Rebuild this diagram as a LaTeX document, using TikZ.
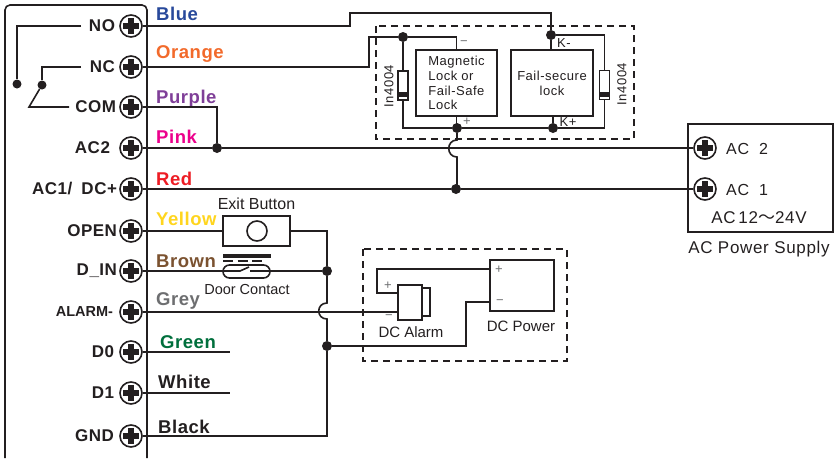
\documentclass[tikz,border=0pt]{standalone}
\usepackage{fontspec}
\setmainfont{Liberation Sans}
\newfontfamily\widefont[LetterSpace=4]{Liberation Sans}
\newfontfamily\pinfont[LetterSpace=3]{Liberation Sans}
\newfontfamily\cjk{Noto Sans CJK SC}
\usetikzlibrary{positioning}
\definecolor{ink}{HTML}{231F20}
\definecolor{cBlue}{HTML}{28499B}
\definecolor{cOrange}{HTML}{F26A2B}
\definecolor{cPurple}{HTML}{7F3F98}
\definecolor{cPink}{HTML}{EC008C}
\definecolor{cRed}{HTML}{ED1C24}
\definecolor{cYellow}{HTML}{FFD51E}
\definecolor{cBrown}{HTML}{7B5230}
\definecolor{cGrey}{HTML}{6D6E70}
\definecolor{cGreen}{HTML}{006F3C}
\definecolor{cWhite}{HTML}{231F20}
\definecolor{cBlack}{HTML}{231F20}
\tikzset{
  wire/.style={draw=ink,line width=1.6pt,line join=miter},
  term/.style={circle,draw=ink,fill=white,line width=1.6pt,minimum size=22pt,inner sep=0pt,
    path picture={
      \draw[ink,line width=6.5pt] ([xshift=-8pt]path picture bounding box.center) -- ([xshift=8pt]path picture bounding box.center);
      \draw[ink,line width=6.5pt] ([yshift=-8pt]path picture bounding box.center) -- ([yshift=8pt]path picture bounding box.center);}},
  dot/.style={circle,fill=ink,minimum size=10pt,inner sep=0pt},
  pinlab/.style={text=ink,inner sep=0pt,font=\fontsize{17}{17}\selectfont\pinfont\bfseries},
  wirelab/.style={anchor=base west,inner sep=0pt,font=\fontsize{18.5}{18.5}\selectfont\pinfont\bfseries},
  thin label/.style={text=ink,inner sep=0pt,font=\fontsize{13}{14.7}\selectfont\widefont},
  mark label/.style={text=cGrey,inner sep=0pt,font=\fontsize{13}{13}\selectfont},
  devbox/.style={rectangle,draw=ink,line width=1.6pt,fill=white,inner sep=0pt},
  diode/.style={rectangle,draw=ink,fill=white,line width=1.4pt,minimum width=10pt,minimum height=29pt,inner sep=0pt,
    path picture={\fill[ink] ([yshift=3pt]path picture bounding box.south west) rectangle ([yshift=8pt]path picture bounding box.south east);}},
  dashbox/.style={draw=ink,line width=1.6pt,dash pattern=on 7pt off 5pt}
}
\begin{document}
\begin{tikzpicture}[x=1pt,y=-1pt]
  \useasboundingbox (0,0) rectangle (836,459);
  % controller outline
  \draw[wire,rounded corners=5pt] (5,458) -- (5,5) -- (147,5) -- (147,458);
  % dashed groups
  \draw[dashbox] (376,26) rectangle (634,139);
  \draw[dashbox] (363,249) rectangle (567,361);
  % terminals
  \foreach \n/\y/\g/\lab in {no/26/4/NO, nc/67/4/NC, com/107/3/COM, actwo/148/9/AC2, acone/189/2/{AC1/\hspace{4pt} DC+},
                          open/231/2/OPEN, din/271/2/D\_IN, dzero/352/5/D0, done/393/5/D1, gnd/436/5/GND}
  {
    \node[term] (t\n) at (131,\y) {};
    \node[pinlab,left=\g pt of t\n] (l\n) {\lab};
  }
  \node[term] (talarm) at (131,312) {};
  \node[pinlab,left=6pt of talarm,font=\fontsize{14.5}{14.5}\selectfont\bfseries] (lalarm) {ALARM-};
  % wire colours
  \foreach \n/\x/\y in {Blue/156/20, Orange/156/58, Purple/156/103, Pink/156/143, Red/156/185, Yellow/156/225,
                        Brown/156/267, Grey/156/305, Green/160/348, White/158/388, Black/158/433}
    \node[wirelab,text=c\n] (w\n) at (\x,\y) {\n};
  % relay inside the controller
  \node[dot,minimum size=9pt] (drelayno) at (17,84) {};
  \node[dot,minimum size=9pt] (drelaync) at (42,85) {};
  \coordinate (relayno) at (81,26);
  \coordinate (relaync) at (81,67);
  \coordinate (relaycom) at (69,107);
  \coordinate (relayarm) at (29,107);
  \draw[wire] (relayno) -| (drelayno);
  \draw[wire] (relaync) -| (drelaync);
  \draw[wire] (relaycom) -- (relayarm) -- (drelaync);
  % locks
  \node[devbox,minimum width=81pt,minimum height=66pt,thin label,align=left] (mag) at (456.5,83) {Magnetic\\Lock or\\Fail-Safe\\Lock};
  \node[devbox,minimum width=82pt,minimum height=66pt,thin label,align=center] (secure) at (552,83) {Fail-secure\\lock};
  \node[diode] (dleft) at (403,85.5) {};
  \node[diode] (dright) at (604.5,85) {};
  \node[thin label,rotate=90] (inleft) at (389,86) {In4004};
  \node[thin label,rotate=90] (inright) at (622,84) {In4004};
  \node[dot] (dmag) at (403,37) {};
  \node[dot] (dplus) at (457,128) {};
  \node[dot] (dsec) at (551,35) {};
  \node[dot] (dkplus) at (553,128) {};
  \node[mark label] (mminus) at (464,43) {−};
  \node[mark label] (mplus) at (467,122) {+};
  \node[thin label] (kminus) at (564,43) {K-};
  \node[thin label] (kplus) at (568,122) {K+};
  \coordinate (noup) at (350,13);
  \coordinate (ncup) at (369,37);
  \draw[wire] (tno.east) -| (noup) -- (noup -| dsec) -- (dsec) -- (dsec |- secure.north);
  \draw[wire] (tnc.east) -| (ncup) -- (dmag) -| (mag.north);
  \draw[wire] (dmag) -- (dleft.north);
  \draw[wire] (dsec) -| (dright.north);
  \draw[wire] (dleft.south) |- (dplus) -- (dkplus) -| (dright.south);
  \draw[wire] (mag.south) -- (mag.south |- dplus);
  \draw[wire] (dkplus) -- (dkplus |- secure.south);
  % AC supply
  \node[devbox,minimum width=145pt,minimum height=108pt] (supply) at (760.5,178) {};
  \node[term] (ttwo) at (705,148) {};
  \node[term] (tone) at (705,189) {};
  \node[thin label,font=\fontsize{16}{16}\selectfont\widefont,anchor=west] (ltwo) at (726,149) {AC\ \ 2};
  \node[thin label,font=\fontsize{16}{16}\selectfont\widefont,anchor=west] (lone) at (726,190) {AC\ \ 1};
  \node[thin label,font=\fontsize{17}{17}\selectfont\widefont] (lvolt) at (759,218) {AC\,12{\cjk ～}24V};
  \node[thin label,font=\fontsize{17}{17}\selectfont\widefont] (lsupply) at (759,249) {AC Power Supply};
  \node[dot] (dac) at (217,148) {};
  \node[dot] (dacone) at (456,189) {};
  \coordinate (jumpa) at (457,140);
  \coordinate (jumpb) at (457,157);
  \draw[wire] (tactwo.east) -- (dac) -- (ttwo.west);
  \draw[wire] (tacone.east) -- (dacone) -- (tone.west);
  \draw[wire] (tcom.east) -| (dac);
  \draw[wire] (dplus) -- (jumpa) .. controls (446,140) and (446,157) .. (jumpb) -- (jumpb |- dacone);
  % exit button and door contact
  \node[devbox,minimum width=67pt,minimum height=30pt] (btn) at (256.5,231) {};
  \node[circle,draw=ink,line width=1.6pt,minimum size=20pt,inner sep=0pt] (btncirc) at (257,231) {};
  \node[text=ink,inner sep=0pt,font=\fontsize{16}{16}\selectfont,above=5pt of btn.north] (lexit) {Exit Button};
  \node[rectangle,fill=ink,minimum width=48pt,minimum height=4pt,inner sep=0pt] (bar) at (247,256) {};
  \draw[ink,line width=1.4pt,dash pattern=on 10pt off 4.5pt] (223,261) -- (266,261);
  \node[draw=ink,line width=1.6pt,rounded corners=6.5pt,minimum width=47pt,minimum height=13pt,inner sep=0pt] (contact) at (246.5,271.5) {};
  \node[text=ink,inner sep=0pt,font=\fontsize{14.5}{14.5}\selectfont] (ldoor) at (247,290) {Door Contact};
  \node[dot] (dexit) at (327,271) {};
  \node[dot] (dblack) at (327,346) {};
  \coordinate (swa) at (240,271);
  \coordinate (swb) at (249,267);
  \coordinate (swc) at (250,271);
  \coordinate (jumpc) at (327,303);
  \coordinate (jumpd) at (327,319);
  \coordinate (gndcorner) at (327,436);
  \draw[wire] (topen.east) -- (btn.west);
  \draw[wire] (btn.east) -| (dexit);
  \draw[wire] (tdin.east) -- (swa) -- (swb);
  \draw[wire] (swc) -- (dexit);
  \draw[wire] (dexit) -- (jumpc) .. controls (316,303) and (316,319) .. (jumpd) -- (dblack) -- (gndcorner) -- (tgnd.east);
  % alarm and DC power
  \node[devbox,minimum width=8pt,minimum height=28pt] (horn) at (426,302) {};
  \node[devbox,minimum width=24pt,minimum height=35pt] (alarm) at (410,302.5) {};
  \node[devbox,minimum width=64pt,minimum height=51pt] (power) at (522,285.5) {};
  \node[thin label,font=\fontsize{15}{15}\selectfont] (lalarmbox) at (411,332) {DC Alarm};
  \node[thin label,font=\fontsize{15}{15}\selectfont] (lpower) at (521,326) {DC Power};
  \node[mark label] (aplus) at (388,286) {+};
  \node[mark label] (aminus) at (389,317) {−};
  \node[mark label] (pplus) at (499,270) {+};
  \node[mark label] (pminus) at (500,302) {−};
  \coordinate (wirepa) at (490,269);
  \coordinate (wirepb) at (377,269);
  \coordinate (wirepc) at (398,293);
  \coordinate (wiremin) at (490,302);
  \coordinate (wiremid) at (466,302);
  \coordinate (wirelow) at (466,346);
  \draw[wire] (wirepa) -- (wirepb) |- (wirepc);
  \draw[wire] (wiremin) -- (wiremid) -- (wirelow) -- (dblack);
  \draw[wire] (talarm.east) -- (talarm.east -| alarm.west);
  % open ended wires
  \coordinate (endzero) at (230,352);
  \coordinate (endone) at (230,393);
  \draw[wire] (tdzero.east) -- (endzero);
  \draw[wire] (tdone.east) -- (endone);
\end{tikzpicture}
\end{document}
